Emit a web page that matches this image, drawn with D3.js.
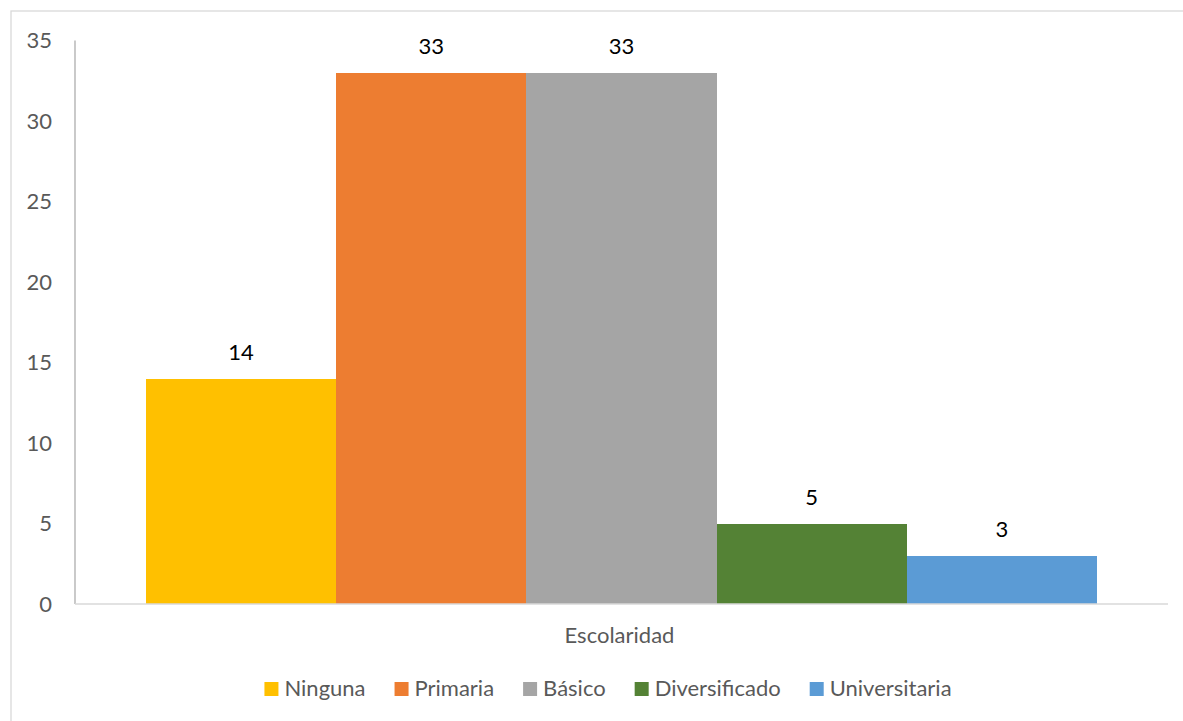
<!DOCTYPE html>
<html>
<head>
<meta charset="utf-8">
<script src="https://cdn.jsdelivr.net/npm/d3@7"></script>
<style>
  html, body { margin: 0; padding: 0; background: #fff; overflow: hidden; }
  svg { display: block; font-family: Lato, "Open Sans", sans-serif; }
</style>
</head>
<body>
<svg id="chart" width="1183" height="721"></svg>
<script>
// Escolaridad: one category, five series
const seriesNames = ["Ninguna", "Primaria", "Básico", "Diversificado", "Universitaria"];
const seriesValues = [14, 33, 33, 5, 3];
const seriesColors = ["#FFC000", "#ED7D31", "#A5A5A5", "#548235", "#5B9BD5"];
const categoryLabel = "Escolaridad";
const yTicks = [0, 5, 10, 15, 20, 25, 30, 35];

const svg = d3.select("#chart");
const W = 1183, H = 721;
const plot = { left: 75, right: 1168, top: 40.5, bottom: 604 };
const FS = 22;

// chart area frame (extends past the window on the right and bottom)
svg.append("rect")
  .attr("x", 11).attr("y", 11)
  .attr("width", W + 20).attr("height", H + 20)
  .attr("fill", "#fff").attr("stroke", "#d9d9d9").attr("stroke-width", 1.3);

const y = d3.scaleLinear().domain([0, 35]).range([plot.bottom, plot.top]);

// one category band, with the series packed side by side inside it
const xCat = d3.scaleBand().domain([categoryLabel])
  .range([plot.left, plot.right]).paddingInner(0).paddingOuter(0.0747);
const xSeries = d3.scaleBand().domain(seriesNames)
  .range([0, xCat.bandwidth()]).padding(0);

// y axis labels
const yAxis = d3.axisLeft(y).tickValues(yTicks).tickSize(0).tickPadding(23);
const yG = svg.append("g").attr("transform", `translate(${plot.left},0)`).call(yAxis);
yG.select(".domain").remove();
yG.selectAll("text")
  .attr("fill", "#595959").style("font-size", FS + "px")
  .style("font-family", "Lato, 'Open Sans', sans-serif");

// vertical axis line
svg.append("line")
  .attr("x1", plot.left).attr("x2", plot.left)
  .attr("y1", y(35)).attr("y2", y(0))
  .attr("stroke", "#a6a6a6").attr("stroke-width", 1.2);

// bars
const bars = svg.append("g");
bars.selectAll("rect").data(seriesNames).join("rect")
  .attr("x", (d) => xCat(categoryLabel) + xSeries(d))
  .attr("width", xSeries.bandwidth() + 0.5)
  .attr("y", (d, i) => y(seriesValues[i]))
  .attr("height", (d, i) => y(0) - y(seriesValues[i]))
  .attr("fill", (d, i) => seriesColors[i])
  .attr("shape-rendering", "crispEdges");

// value labels
bars.selectAll("text").data(seriesNames).join("text")
  .attr("x", (d) => xCat(categoryLabel) + xSeries(d) + xSeries.bandwidth() / 2)
  .attr("y", (d, i) => y(seriesValues[i]) - 19)
  .attr("text-anchor", "middle")
  .attr("fill", "#000")
  .style("font-size", FS + "px")
  .text((d, i) => seriesValues[i]);

// horizontal axis line
svg.append("line")
  .attr("x1", plot.left).attr("x2", plot.right)
  .attr("y1", y(0)).attr("y2", y(0))
  .attr("stroke", "#d9d9d9").attr("stroke-width", 1.5);

// category label
svg.append("text")
  .attr("x", xCat(categoryLabel) + xCat.bandwidth() / 2 - 2)
  .attr("y", 643)
  .attr("text-anchor", "middle")
  .attr("fill", "#595959")
  .style("font-size", FS + "px")
  .text(categoryLabel);

// legend, centred under the plot
const legend = svg.append("g");
const items = legend.selectAll("g").data(seriesNames).join("g");
items.append("rect")
  .attr("width", 14).attr("height", 14)
  .attr("y", 682)
  .attr("fill", (d, i) => seriesColors[i]);
items.append("text")
  .attr("x", 20).attr("y", 696)
  .attr("fill", "#595959")
  .style("font-size", FS + "px")
  .text((d) => d);
const gap = 29;
let widths = [];
items.each(function () { widths.push(20 + this.querySelector("text").getComputedTextLength()); });
const total = d3.sum(widths) + gap * (widths.length - 1);
let cx = 608 - total / 2;
items.each(function (d, i) {
  d3.select(this).attr("transform", `translate(${cx},0)`);
  cx += widths[i] + gap;
});
</script>
</body>
</html>
